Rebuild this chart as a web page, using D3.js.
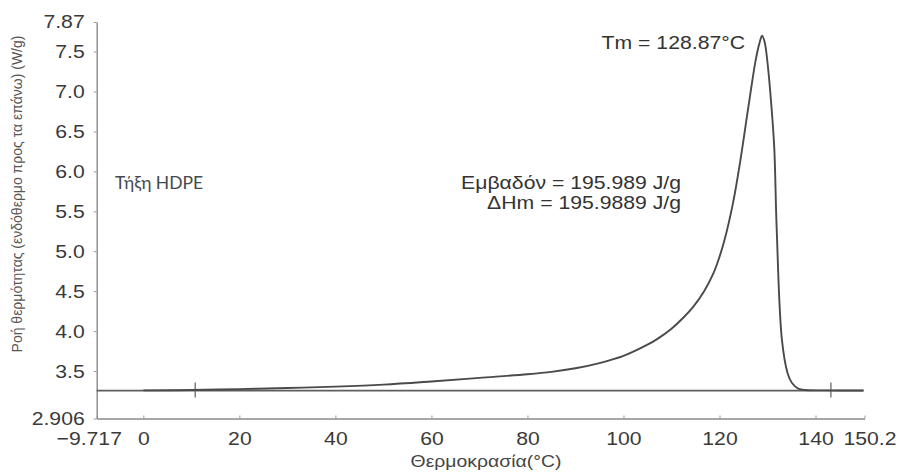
<!DOCTYPE html>
<html>
<head>
<meta charset="utf-8">
<script src="https://cdn.jsdelivr.net/npm/d3@7"></script>
<style>
  html, body { margin: 0; padding: 0; background: #fff; }
  svg { display: block; }
  text { font-family: "Liberation Sans", Arial, Helvetica, sans-serif; }
</style>
</head>
<body>
<svg id="chart" width="899" height="472"></svg>
<script>
// DSC melting curve of HDPE: temperature (°C) vs heat flow (W/g, endotherm up)
const temperature = [0, 10, 20, 30, 40, 50, 60, 70, 80, 85, 90, 95, 100, 105, 107, 110, 112.5, 114.6, 116.8, 118.75, 120.0, 121.0, 122.8, 124.3, 126.0, 127.5, 128.3, 128.87, 129.4, 130.0, 130.7, 131.4, 131.9, 133.0, 134.2, 135.1, 136.4, 138, 142, 150];
const heatFlow    = [3.258, 3.262, 3.274, 3.288, 3.305, 3.33, 3.37, 3.415, 3.46, 3.49, 3.535, 3.60, 3.69, 3.83, 3.90, 4.03, 4.17, 4.31, 4.50, 4.725, 4.93, 5.13, 5.6, 6.12, 6.8, 7.38, 7.6, 7.70, 7.62, 7.36, 6.9, 6.3, 5.3, 3.89, 3.47, 3.35, 3.28, 3.262, 3.258, 3.256];

// Integration baseline and its limit markers
const baselineT = [-9.717, 150];
const baselineHF = [3.255, 3.255];
const limitMarksT = [10.8, 143.2];

const xTicks = [-9.717, 0, 20, 40, 60, 80, 100, 120, 140, 150.2];
const xTickLabels = ["\u22129.717", "0", "20", "40", "60", "80", "100", "120", "140", "150.2"];
const yTicks = [2.906, 3.5, 4.0, 4.5, 5.0, 5.5, 6.0, 6.5, 7.0, 7.5, 7.87];
const yTickLabels = ["2.906", "3.5", "4.0", "4.5", "5.0", "5.5", "6.0", "6.5", "7.0", "7.5", "7.87"];

const peakLabel = "Tm = 128.87\u00B0C";
const areaLabel = "\u0395\u03BC\u03B2\u03B1\u03B4\u03CC\u03BD = 195.989 J/g";
const enthalpyLabel = "\u0394Hm = 195.9889 J/g";
const sampleLabel = "\u03A4\u03AE\u03BE\u03B7 HDPE";
const xTitle = "\u0398\u03B5\u03C1\u03BC\u03BF\u03BA\u03C1\u03B1\u03C3\u03AF\u03B1(\u00B0C)";
const yTitle = "\u03A1\u03BF\u03AE \u03B8\u03B5\u03C1\u03BC\u03CC\u03C4\u03B7\u03C4\u03B1\u03C2 (\u03B5\u03BD\u03B4\u03CC\u03B8\u03B5\u03C1\u03BC\u03BF \u03C0\u03C1\u03BF\u03C2 \u03C4\u03B1 \u03B5\u03C0\u03AC\u03BD\u03C9) (W/g)";

const svg = d3.select("#chart");

const x = d3.scaleLinear().domain([-9.717, 150.2]).range([96.7, 864.5]);
const y = d3.scaleLinear().domain([2.906, 7.87]).range([418.5, 22]);

// widen glyphs horizontally (the instrument software uses a wide sans face)
const WIDEN = 1.14;
function widen(sel) {
  sel.each(function () {
    const len = this.getComputedTextLength();
    d3.select(this).attr("textLength", len * WIDEN).attr("lengthAdjust", "spacingAndGlyphs");
  });
}

// axes
const xAxis = d3.axisBottom(x)
  .tickValues(xTicks)
  .tickFormat((d, i) => xTickLabels[i])
  .tickSizeInner(-3).tickSizeOuter(0).tickPadding(13);
const yAxis = d3.axisLeft(y)
  .tickValues(yTicks)
  .tickFormat((d, i) => yTickLabels[i])
  .tickSizeInner(3).tickSizeOuter(0).tickPadding(9);

const gx = svg.append("g").attr("transform", `translate(0,${y.range()[0]})`).call(xAxis);
const gy = svg.append("g").attr("transform", `translate(${x.range()[0]},0)`).call(yAxis);

[gx, gy].forEach(g => {
  g.select(".domain").attr("stroke", "#8a8a8a").attr("stroke-width", 1.4);
  g.selectAll(".tick line").attr("stroke", "#9a9a9a").attr("stroke-width", 1);
  g.selectAll(".tick text")
    .attr("fill", "#3a3a3a")
    .style("font-size", "18.6px")
    .style("font-family", "'Liberation Sans', Arial, sans-serif");
});
widen(gy.selectAll(".tick text"));
widen(gx.selectAll(".tick text"));
gx.selectAll(".tick text").attr("dx", (d, i) => i === 0 ? -8 : (i === xTicks.length - 1 ? 5 : 0));

// baseline
svg.append("path")
  .datum(baselineT.map((t, i) => [t, baselineHF[i]]))
  .attr("fill", "none")
  .attr("stroke", "#5e5e5e")
  .attr("stroke-width", 1.6)
  .attr("d", d3.line().x(d => x(d[0])).y(d => y(d[1])));

// integration limit markers
svg.selectAll("line.limit")
  .data(limitMarksT)
  .join("line")
  .attr("class", "limit")
  .attr("x1", d => x(d)).attr("x2", d => x(d))
  .attr("y1", y(baselineHF[0]) - 8).attr("y2", y(baselineHF[0]) + 7)
  .attr("stroke", "#6a6a6a")
  .attr("stroke-width", 1.3);

// DSC curve
svg.append("path")
  .datum(temperature.map((t, i) => [t, heatFlow[i]]))
  .attr("fill", "none")
  .attr("stroke", "#4a4a4a")
  .attr("stroke-width", 1.9)
  .attr("stroke-linejoin", "round")
  .attr("d", d3.line().x(d => x(d[0])).y(d => y(d[1])).curve(d3.curveCatmullRom.alpha(0.5)));

// annotations
const ann = svg.append("g").attr("fill", "#333").style("font-size", "18.6px");
ann.append("text").attr("x", 745).attr("y", 49).attr("text-anchor", "end").text(peakLabel).call(widen);
ann.append("text").attr("x", 681).attr("y", 188.5).attr("text-anchor", "end").text(areaLabel).call(widen);
ann.append("text").attr("x", 681).attr("y", 208.5).attr("text-anchor", "end").text(enthalpyLabel).call(widen);

svg.append("text")
  .attr("x", 115).attr("y", 189)
  .attr("fill", "#454a4e")
  .style("font-family", "Lato, 'Open Sans', sans-serif")
  .style("font-size", "17.5px")
  .text(sampleLabel);

// axis titles
svg.append("text")
  .attr("x", 486).attr("y", 467)
  .attr("text-anchor", "middle")
  .attr("fill", "#444")
  .style("font-size", "17px")
  .text(xTitle).call(widen);

svg.append("text")
  .attr("transform", "translate(22,194) rotate(-90)")
  .attr("text-anchor", "middle")
  .attr("fill", "#555")
  .style("font-size", "14px")
  .text(yTitle);
</script>
</body>
</html>
